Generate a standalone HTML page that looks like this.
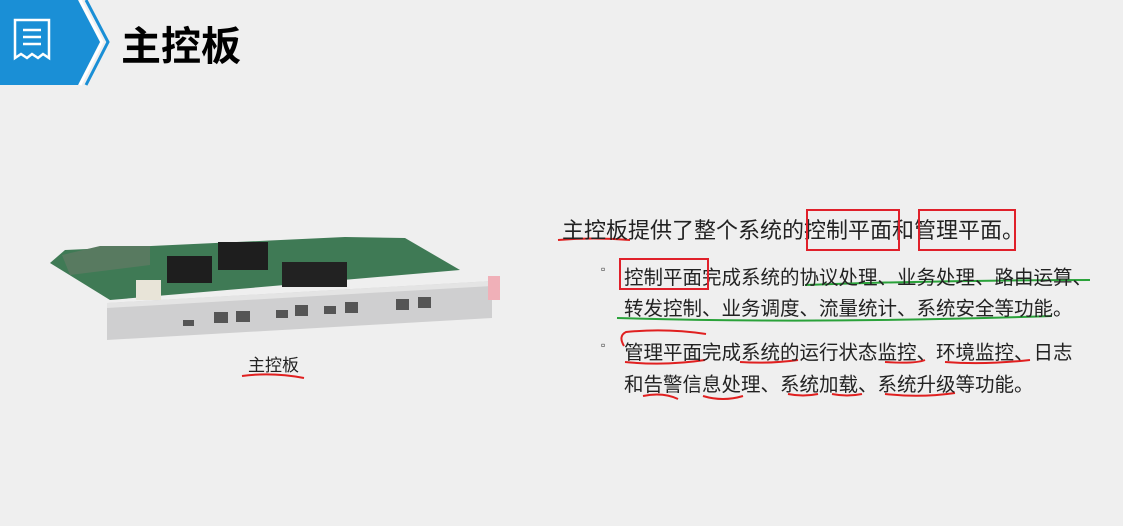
<!DOCTYPE html>
<html><head><meta charset="utf-8"><style>
body{margin:0;width:1123px;height:526px;background:#efefef;overflow:hidden;position:relative;font-family:"Liberation Sans","Noto Sans CJK SC",sans-serif}
.t{position:absolute;white-space:nowrap;color:#222}
.box{position:absolute;border:2px solid #e0202a}
</style></head><body>
<svg width="1123" height="526" style="position:absolute;left:0;top:0">
<polygon points="0,0 78,0 100,42 78,85 0,85" fill="#1a8fd6"/>
<polyline points="80,0 102,42 80,85" fill="none" stroke="#fff" stroke-width="3"/>
<polyline points="86,0 108,42 86,85" fill="none" stroke="#1a8fd6" stroke-width="3"/>
<path d="M15,20 h34 v38 l-6,-4 -5,4 -6,-4 -5,4 -6,-4 -6,4z" fill="none" stroke="#fff" stroke-width="2.5"/>
<line x1="23" y1="30" x2="41" y2="30" stroke="#fff" stroke-width="2.5"/>
<line x1="23" y1="37" x2="41" y2="37" stroke="#fff" stroke-width="2.5"/>
<line x1="23" y1="44" x2="41" y2="44" stroke="#fff" stroke-width="2.5"/>
<polygon points="50,263 65,250 345,237 405,238 460,270 110,300" fill="#3f7a55"/>
<polygon points="62,255 100,246 150,246 150,265 70,275" fill="#587a60"/>
<rect x="218" y="242" width="50" height="28" fill="#1e1e1e"/>
<rect x="167" y="256" width="45" height="27" fill="#1e1e1e"/>
<rect x="282" y="262" width="65" height="25" fill="#222"/>
<rect x="136" y="280" width="25" height="20" fill="#e8e4d8"/>
<polygon points="107,303 492,281 492,318 107,340" fill="#cfcfd0"/>
<polygon points="107,303 492,281 492,286 107,308" fill="#e4e4e4"/>
<rect x="488" y="276" width="12" height="24" fill="#f0b0b8"/>
<g fill="#555">
<rect x="214" y="312" width="14" height="11"/><rect x="236" y="311" width="14" height="11"/>
<rect x="276" y="310" width="12" height="8"/><rect x="295" y="305" width="13" height="11"/>
<rect x="324" y="306" width="12" height="8"/><rect x="345" y="302" width="13" height="11"/>
<rect x="396" y="299" width="13" height="11"/><rect x="418" y="297" width="13" height="11"/>
<rect x="183" y="320" width="11" height="6"/>
</g>
<path d="M242,376 q30,-4 62,2" stroke="#e02020" stroke-width="2" fill="none"/>
<path d="M558,240 q35,-3 72,0" stroke="#e02020" stroke-width="2" fill="none"/>
<path d="M624,346 q-6,-10 2,-14 q40,-4 80,2" stroke="#e02020" stroke-width="2" fill="none"/>
<path d="M625,362 q40,4 80,-2" stroke="#e02020" stroke-width="2" fill="none"/>
<g stroke="#e02020" stroke-width="2" fill="none">
<path d="M740,362 q30,2 58,-2"/><path d="M885,362 q30,2 40,-2"/><path d="M945,362 q40,3 85,-2"/>
<path d="M643,396 q20,-4 35,3"/><path d="M703,396 q20,6 40,0"/><path d="M788,394 q15,3 30,0"/><path d="M832,394 q15,3 30,0"/><path d="M885,394 q35,4 70,-1"/>
</g>
<g stroke="#2aa23a" stroke-width="2" fill="none">
<path d="M805,285 q140,-5 285,-5"/><path d="M617,318 q200,6 435,-2"/>
</g>
</svg>
<div class="t" style="left:121px;top:14px;font-size:40px;font-weight:bold;color:#000">主控板</div>
<div class="t" style="left:248px;top:351px;font-size:17px">主控板</div>
<div class="t" style="left:562px;top:213px;font-size:22px">主控板提供了整个系统的控制平面和管理平面。</div>
<div class="box" style="left:806px;top:209px;width:90px;height:38px"></div>
<div class="box" style="left:918px;top:209px;width:94px;height:38px"></div>
<div class="t" style="left:601px;top:262px;font-size:12px">▫</div>
<div class="t" style="left:624px;top:261px;font-size:19.5px">控制平面完成系统的协议处理、业务处理、路由运算、</div>
<div class="box" style="left:619px;top:258px;width:86px;height:28px"></div>
<div class="t" style="left:624px;top:292px;font-size:19.5px">转发控制、业务调度、流量统计、系统安全等功能。</div>
<div class="t" style="left:601px;top:338px;font-size:12px">▫</div>
<div class="t" style="left:624px;top:336px;font-size:19.5px">管理平面完成系统的运行状态监控、环境监控、日志</div>
<div class="t" style="left:624px;top:368px;font-size:19.5px">和告警信息处理、系统加载、系统升级等功能。</div>
</body></html>
